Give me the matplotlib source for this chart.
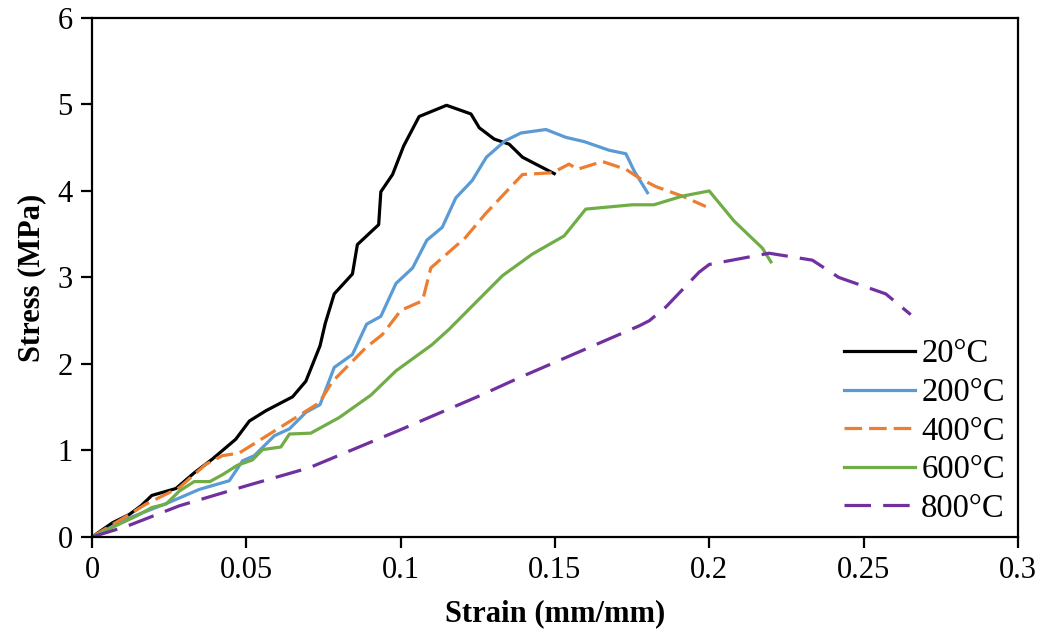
import matplotlib
matplotlib.use("Agg")
import matplotlib.pyplot as plt

plt.rcParams['font.family'] = ['Liberation Serif', 'DejaVu Serif']

# Stress-strain data
strain_20 = [0, 0.0067, 0.0121, 0.0159, 0.0194, 0.0272, 0.0331, 0.039, 0.0466, 0.051, 0.0564,
             0.065, 0.0693, 0.0739, 0.0756, 0.0785, 0.0844, 0.086, 0.0929, 0.0936, 0.0974,
             0.101, 0.106, 0.1149, 0.1228, 0.1255, 0.1303, 0.1352, 0.1395, 0.1438, 0.1498]
stress_20 = [0, 0.165, 0.26, 0.36, 0.48, 0.56, 0.74, 0.90, 1.13, 1.34, 1.46,
             1.62, 1.80, 2.21, 2.47, 2.81, 3.04, 3.38, 3.61, 3.99, 4.19,
             4.52, 4.86, 4.99, 4.89, 4.73, 4.60, 4.54, 4.39, 4.31, 4.20]

strain_200 = [0, 0.0121, 0.025, 0.0348, 0.0445, 0.0488, 0.0526, 0.0591, 0.064, 0.0693, 0.0739,
              0.0785, 0.0844, 0.089, 0.0936, 0.0985, 0.1039, 0.1085, 0.1135, 0.1179, 0.1232,
              0.1278, 0.1339, 0.139, 0.1471, 0.1535, 0.1595, 0.1676, 0.173, 0.1757, 0.18]
stress_200 = [0, 0.22, 0.40, 0.55, 0.65, 0.88, 0.94, 1.17, 1.25, 1.44, 1.53,
              1.96, 2.11, 2.46, 2.55, 2.93, 3.11, 3.43, 3.58, 3.92, 4.12,
              4.39, 4.58, 4.67, 4.71, 4.62, 4.57, 4.47, 4.43, 4.23, 3.98]

strain_400 = [0, 0.0121, 0.0175, 0.0283, 0.0369, 0.0423, 0.0477, 0.0607, 0.0736, 0.078, 0.0888,
              0.0941, 0.1001, 0.1071, 0.1098, 0.121, 0.1276, 0.1395, 0.1492, 0.1546, 0.1573,
              0.1654, 0.173, 0.1773, 0.1827, 0.1913, 0.1989]
stress_400 = [0, 0.26, 0.38, 0.57, 0.84, 0.94, 0.97, 1.26, 1.55, 1.80, 2.19,
              2.34, 2.62, 2.73, 3.11, 3.46, 3.74, 4.19, 4.21, 4.31, 4.25,
              4.34, 4.25, 4.15, 4.05, 3.94, 3.82]

strain_600 = [0, 0.0143, 0.0194, 0.024, 0.0283, 0.0331, 0.0382, 0.0423, 0.0472, 0.052, 0.0553,
              0.0612, 0.064, 0.0709, 0.0801, 0.0904, 0.0985, 0.1101, 0.1157, 0.133, 0.1427,
              0.153, 0.16, 0.1751, 0.1821, 0.1913, 0.2, 0.2081, 0.2172, 0.22]
stress_600 = [0, 0.24, 0.34, 0.38, 0.53, 0.64, 0.64, 0.72, 0.83, 0.89, 1.01,
              1.04, 1.19, 1.20, 1.38, 1.64, 1.92, 2.22, 2.40, 3.02, 3.27,
              3.48, 3.79, 3.84, 3.84, 3.94, 4.00, 3.65, 3.34, 3.18]

strain_800 = [0, 0.011, 0.0283, 0.0499, 0.0704, 0.1, 0.1255, 0.1384, 0.1773, 0.1806, 0.186,
              0.1967, 0.2, 0.2194, 0.2334, 0.242, 0.2572, 0.2653]
stress_800 = [0, 0.12, 0.36, 0.59, 0.80, 1.24, 1.63, 1.84, 2.44, 2.50, 2.66,
              3.06, 3.15, 3.28, 3.20, 3.00, 2.81, 2.57]

fig = plt.figure(figsize=(10.45, 6.4), dpi=100)
ax = fig.add_axes([0.088, 0.161, 0.886, 0.811])

lw = 2.3
ax.plot(strain_20, stress_20, color='black', lw=lw, label='20°C')
ax.plot(strain_200, stress_200, color='#5b9bd5', lw=lw, label='200°C')
ax.plot(strain_400, stress_400, color='#ed7d31', lw=lw, dashes=(5.5, 2.2), label='400°C')
ax.plot(strain_600, stress_600, color='#70ad47', lw=lw, label='600°C')
ax.plot(strain_800, stress_800, color='#7030a0', lw=lw, dashes=(8.3, 3.8), label='800°C')

ax.set_xlim(0, 0.3)
ax.set_ylim(0, 6)
ax.set_xticks([0, 0.05, 0.1, 0.15, 0.2, 0.25, 0.3])
ax.set_xticklabels(['0', '0.05', '0.1', '0.15', '0.2', '0.25', '0.3'])
ax.set_yticks(range(7))

for side in ax.spines.values():
    side.set_linewidth(1.6)
ax.tick_params(direction='out', length=8, width=1.6, labelsize=22, pad=6)

ax.set_xlabel('Strain (mm/mm)', fontsize=22, fontweight='bold', labelpad=10)
ax.set_ylabel('Stress (MPa)', fontsize=22, fontweight='bold', labelpad=8)

ax.legend(loc='lower right', frameon=False, fontsize=23.5, handlelength=2.15,
          handletextpad=0.2, labelspacing=0.25, borderaxespad=0.0,
          bbox_to_anchor=(1.0, 0.0))

fig.savefig('out.png', dpi=100)
